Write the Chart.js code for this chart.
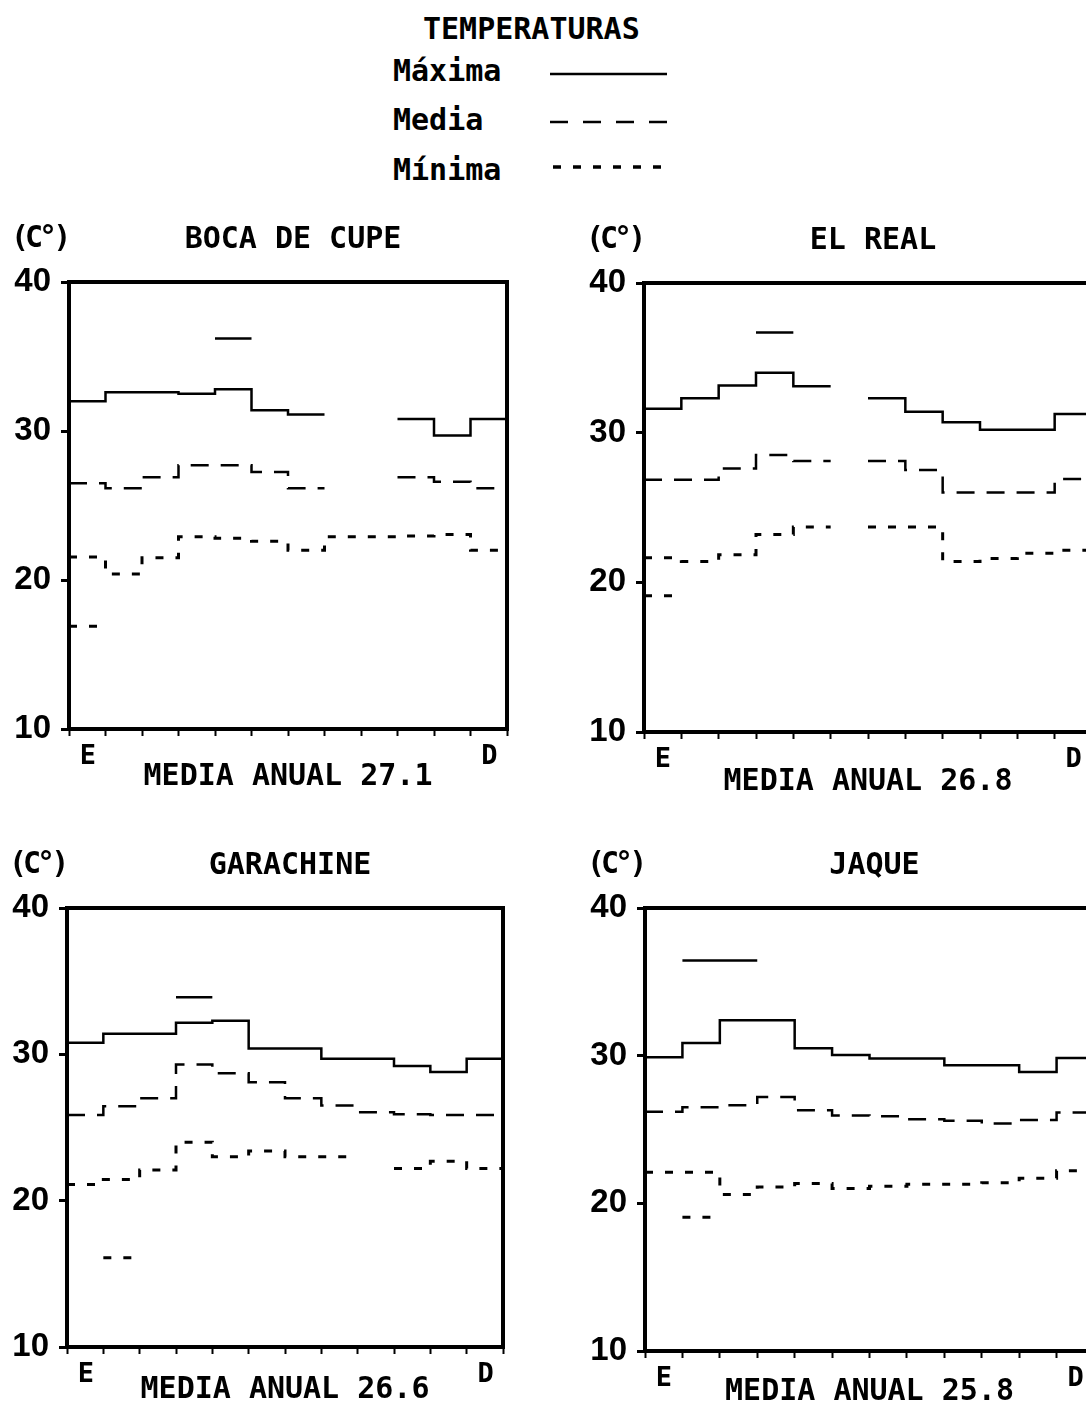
<!DOCTYPE html>
<html>
<head>
<meta charset="utf-8">
<script src="https://cdn.jsdelivr.net/npm/chart.js@4"></script>
<style>
  html, body { margin: 0; padding: 0; background: #fff; }
  body { width: 1086px; height: 1410px; position: relative; overflow: hidden; color: #000; font-family: "DejaVu Sans Mono", monospace; }
  canvas { position: absolute; }
  .txt { position: absolute; font-size: 30px; line-height: 30px; font-weight: bold; white-space: pre; }
  #legend-lines { position: absolute; left: 545px; top: 60px; }
</style>
</head>
<body>
<div class="txt" style="left:423px; top:14px;">TEMPERATURAS</div>
<div class="txt" style="left:393px; top:56px;">Máxima</div>
<div class="txt" style="left:393px; top:105px;">Media</div>
<div class="txt" style="left:393px; top:155px;">Mínima</div>
<svg id="legend-lines" width="130" height="120">
  <line x1="5" y1="14" x2="122" y2="14" stroke="#000" stroke-width="2.5"/>
  <line x1="5" y1="62" x2="125" y2="62" stroke="#000" stroke-width="2.5" stroke-dasharray="18 15"/>
  <line x1="8" y1="107" x2="125" y2="107" stroke="#000" stroke-width="3.5" stroke-dasharray="8 12"/>
</svg>
<canvas id="boca"></canvas>
<canvas id="real"></canvas>
<canvas id="garachine"></canvas>
<canvas id="jaque"></canvas>
<script>
const months = ["E", "F", "M", "A", "M", "J", "J", "A", "S", "O", "N", "D"];
const yTicks = [10, 20, 30, 40];

// Boca de Cupe
const bocaMax = [32.0, 32.6, 32.6, 32.5, 32.8, 31.4, 31.1, null, null, 30.8, 29.7, 30.8];
const bocaMean = [26.5, 26.15, 26.9, 27.7, 27.7, 27.25, 26.15, null, null, 26.9, 26.6, 26.15];
const bocaMin = [21.55, 20.4, 21.5, 22.9, 22.8, 22.6, 22.0, 22.9, 22.9, 22.95, 23.05, 22.0];
const bocaMaxAbs = [null, null, null, null, 36.2, null, null, null, null, null, null, null];
const bocaMinAbs = [16.9, null, null, null, null, null, null, null, null, null, null, null];

// El Real
const realMax = [31.6, 32.3, 33.15, 34.0, 33.1, null, 32.3, 31.4, 30.7, 30.2, 30.2, 31.25];
const realMean = [26.85, 26.85, 27.6, 28.5, 28.1, null, 28.1, 27.5, 26.0, 26.0, 26.0, 26.9];
const realMin = [21.65, 21.4, 21.85, 23.2, 23.7, null, 23.7, 23.7, 21.4, 21.6, 21.95, 22.15];
const realMaxAbs = [null, null, null, 36.7, null, null, null, null, null, null, null, null];
const realMinAbs = [19.1, null, null, null, null, null, null, null, null, null, null, null];

// Garachine
const garaMax = [30.8, 31.4, 31.4, 32.15, 32.3, 30.4, 30.4, 29.7, 29.7, 29.2, 28.8, 29.7];
const garaMean = [25.85, 26.45, 27.0, 29.3, 28.7, 28.1, 27.0, 26.5, 26.05, 25.9, 25.85, 25.85];
const garaMin = [21.1, 21.45, 22.1, 24.0, 23.0, 23.4, 23.0, 23.0, null, 22.2, 22.7, 22.2];
const garaMaxAbs = [null, null, null, 33.9, null, null, null, null, null, null, null, null];
const garaMinAbs = [null, 16.1, null, null, null, null, null, null, null, null, null, null];

// Jaque
const jaqueMax = [29.9, 30.85, 32.4, 32.4, 30.5, 30.05, 29.8, 29.8, 29.35, 29.35, 28.9, 29.85];
const jaqueMean = [26.2, 26.5, 26.65, 27.2, 26.3, 25.95, 25.9, 25.7, 25.6, 25.4, 25.65, 26.15];
const jaqueMin = [22.1, 22.1, 20.6, 21.1, 21.35, 21.0, 21.15, 21.3, 21.3, 21.4, 21.7, 22.2];
const jaqueMaxAbs = [null, 36.45, 36.45, null, null, null, null, null, null, null, null, null];
const jaqueMinAbs = [null, 19.05, null, null, null, null, null, null, null, null, null, null];

const stations = ["BOCA DE CUPE", "EL REAL", "GARACHINE", "JAQUE"];
const annualMeans = ["27.1", "26.8", "26.6", "25.8"];

const lineStyles = {
  max: { borderWidth: 2.5, borderDash: [] },
  mean: { borderWidth: 2.5, borderDash: [18, 12] },
  min: { borderWidth: 3, borderDash: [8, 12] },
};

// each month is a flat step; consecutive months join with a vertical riser
function steps(values) {
  const pts = [];
  values.forEach((v, i) => {
    if (v === null) {
      pts.push({ x: i + 0.5, y: null });
      return;
    }
    pts.push({ x: i, y: v }, { x: i + 1, y: v });
  });
  return pts;
}

function line(values, kind) {
  return {
    data: steps(values),
    borderColor: "#000",
    borderWidth: lineStyles[kind].borderWidth,
    borderDash: lineStyles[kind].borderDash,
    pointRadius: 0,
    tension: 0,
    fill: false,
  };
}

const panelDecor = {
  id: "panelDecor",
  afterDraw(chart, args, opts) {
    const { ctx, chartArea: a } = chart;
    ctx.save();
    ctx.lineWidth = 4;
    ctx.strokeStyle = "#000";
    ctx.strokeRect(a.left, a.top, a.right - a.left, a.bottom - a.top);
    ctx.fillStyle = "#000";
    ctx.font = "bold 30px 'DejaVu Sans Mono'";
    ctx.textBaseline = "middle";
    ctx.textAlign = "left";
    ctx.letterSpacing = "-4px";
    ctx.fillText("(C°)", a.left - 58, a.top - 43);
    ctx.letterSpacing = "0px";
    ctx.textAlign = "center";
    ctx.fillText(opts.station, (a.left + a.right) / 2 + 5, a.top - 42);
    ctx.restore();
  },
};

const panels = [
  { id: "boca", n: 0, area: [69, 282, 507, 729], titlePad: 14, series: [bocaMax, bocaMaxAbs, bocaMean, bocaMin, bocaMinAbs] },
  { id: "real", n: 1, area: [644, 283, 1092, 732], titlePad: 12, series: [realMax, realMaxAbs, realMean, realMin, realMinAbs] },
  { id: "garachine", n: 2, area: [67, 908, 503, 1347], titlePad: 19, series: [garaMax, garaMaxAbs, garaMean, garaMin, garaMinAbs] },
  { id: "jaque", n: 3, area: [645, 908, 1094, 1351], titlePad: 21, series: [jaqueMax, jaqueMaxAbs, jaqueMean, jaqueMin, jaqueMinAbs] },
];

function makeChart(p) {
  const canvas = document.getElementById(p.id);
  const left = p.area[0] - 69;
  const top = p.area[1] - 82;
  canvas.width = p.area[2] - left + 20;
  canvas.height = p.area[3] + 80 - top;
  canvas.style.left = left + "px";
  canvas.style.top = top + "px";
  const kinds = ["max", "max", "mean", "min", "min"];
  new Chart(canvas, {
    type: "line",
    data: {
      datasets: p.series.map((s, i) => line(s, kinds[i])),
    },
    options: {
      responsive: false,
      animation: false,
      events: [],
      layout: { padding: { top: 82, right: 20, left: 0, bottom: 0 } },
      plugins: {
        legend: { display: false },
        tooltip: { enabled: false },
        panelDecor: { station: stations[p.n] },
      },
      scales: {
        x: {
          type: "linear",
          min: 0,
          max: 12,
          afterFit: (s) => {
            s.height = 80;
          },
          afterBuildTicks: (s) => {
            s.ticks = months.map((m, i) => ({ value: i })).concat([{ value: 12 }]);
          },
          ticks: {
            autoSkip: false,
            maxRotation: 0,
            labelOffset: 19,
            padding: 5,
            color: "#000",
            font: { family: "DejaVu Sans Mono", size: 27, weight: "bold" },
            callback: (v) => (v === 0 || v === 11 ? months[v] : ""),
          },
          grid: { drawOnChartArea: false, tickLength: 7, tickWidth: 2, color: "#000" },
          border: { display: false },
          title: {
            display: true,
            text: "MEDIA ANUAL " + annualMeans[p.n],
            color: "#000",
            font: { family: "DejaVu Sans Mono", size: 30, weight: "bold" },
            padding: { top: 0, bottom: p.titlePad },
          },
        },
        y: {
          min: 10,
          max: 40,
          afterFit: (s) => {
            s.width = 69;
          },
          afterBuildTicks: (s) => {
            s.ticks = yTicks.map((v) => ({ value: v }));
          },
          ticks: {
            padding: 10,
            color: "#000",
            font: { family: "Liberation Sans", size: 33, weight: "bold" },
          },
          grid: { drawOnChartArea: false, tickLength: 8, tickWidth: 3, color: "#000" },
          border: { display: false },
        },
      },
    },
    plugins: [panelDecor],
  });
}

panels.forEach(makeChart);
</script>
</body>
</html>
